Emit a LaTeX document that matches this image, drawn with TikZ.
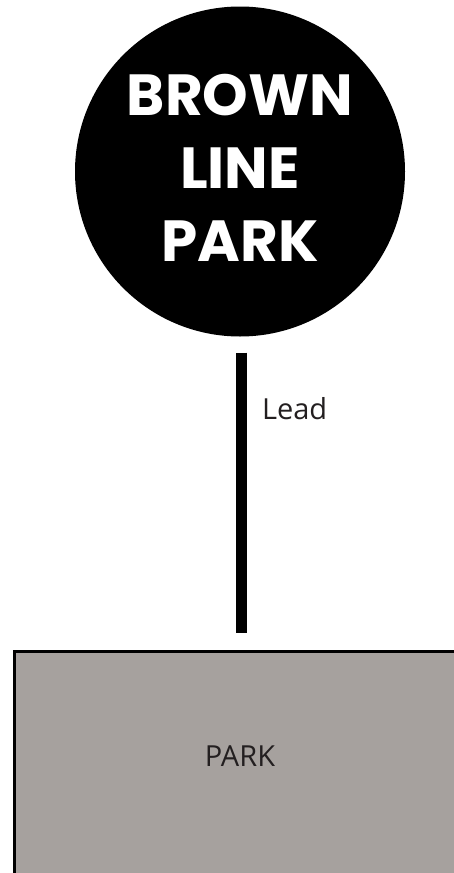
\documentclass[tikz,border=0pt]{standalone}
\usepackage{fontspec}
\setmainfont{Open Sans}
\newfontfamily\titlefont{Poppins}
\definecolor{parkgray}{RGB}{166,161,158}
\definecolor{textgray}{RGB}{35,31,32}
\tikzset{
  titledisc/.style={circle, fill=black, minimum size=330pt, inner sep=0pt},
  titletext/.style={text=white, align=center, font=\titlefont\bfseries\fontsize{58}{73}\selectfont},
  leadline/.style={line width=11pt, black},
  parkbox/.style={draw=black, line width=3pt, fill=parkgray, minimum width=500pt, minimum height=250pt, inner sep=0pt},
  plain/.style={text=textgray, font=\fontsize{29}{35}\selectfont, inner sep=0pt}
}
\begin{document}
\begin{tikzpicture}[x=1pt,y=-1pt]
\useasboundingbox (0,0) rectangle (454,873);
\clip (0,0) rectangle (454,873);
\node[titledisc] (title) at (240,171.5) {};
\node[titletext] (titlelabel) at (240,167.5) {BROWN\\LINE\\PARK};
\node[parkbox] (park) at (264.5,776.5) {};
\node[plain, anchor=base] (parklabel) at (240,766) {PARK};
\coordinate (leadend) at ([xshift=1.5pt]title.south |- park.north);
\draw[leadline] ([xshift=1.5pt,yshift=-16pt]title.south) -- node[plain, anchor=base west, pos=0.239, xshift=15pt] (leadlabel) {Lead} ([yshift=17pt]leadend);
\end{tikzpicture}
\end{document}
